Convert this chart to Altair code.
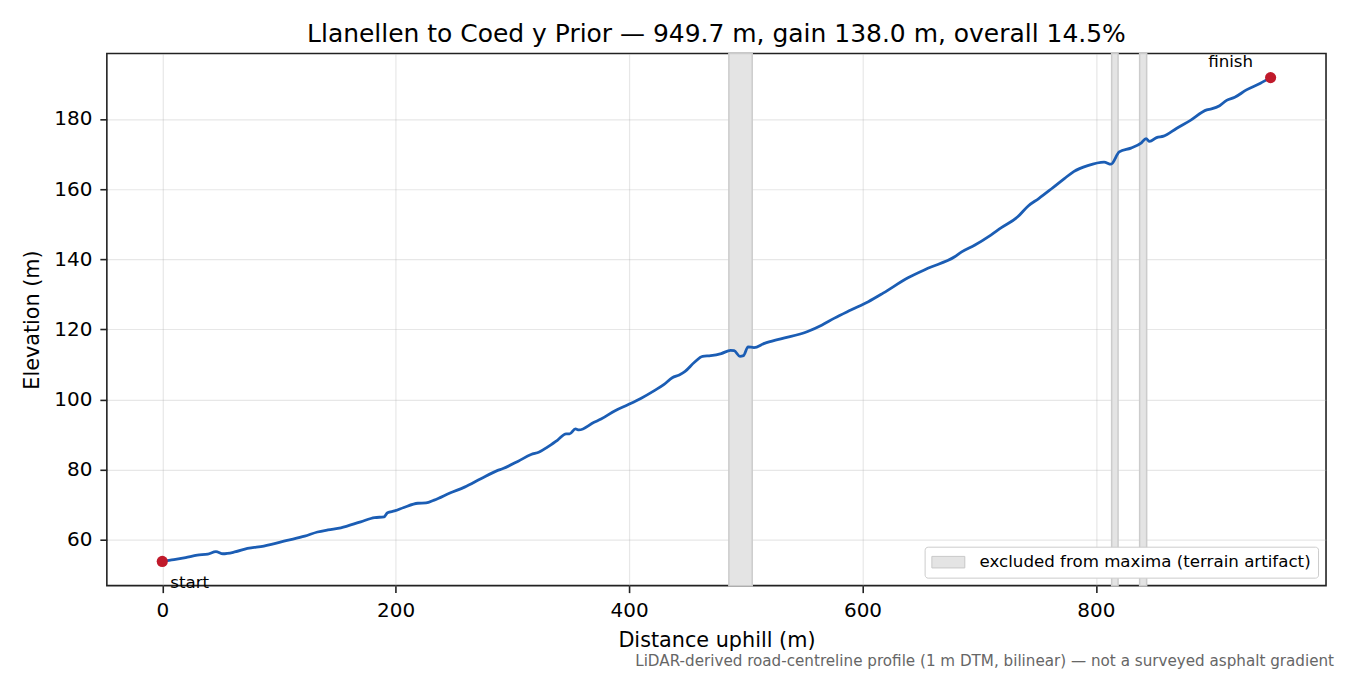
import altair as alt
import pandas as pd

# Road profile: distance uphill (m) and elevation (m)
dist_m = [0, 10, 20, 30, 39, 46, 52, 62, 73, 87, 107, 122, 133, 142, 153, 170,
          182, 190, 193, 199, 207, 219, 226, 233, 247, 259, 273, 287, 292, 305,
          316, 323, 330, 339, 346, 349, 354, 357, 370, 376, 388, 399, 410, 422,
          430, 437, 443, 448, 456, 463, 470, 479, 487, 490, 495, 498, 502, 507,
          516, 530, 553, 565, 576, 590, 605, 618, 639, 656, 679, 685, 696, 710,
          719, 733, 742, 751, 762, 773, 781, 793, 807, 813, 820, 830, 839, 843,
          846, 852, 858, 869, 881, 895, 899, 906, 912, 919, 929, 941, 949.7]
elev_m = [53.8, 54.3, 54.9, 55.6, 55.9, 56.6, 56.0, 56.5, 57.5, 58.2, 59.8, 61.0,
          62.2, 62.8, 63.4, 65.1, 66.3, 66.5, 67.7, 68.2, 69.2, 70.4, 70.5, 71.3,
          73.4, 75.0, 77.4, 79.7, 80.3, 82.4, 84.3, 85.0, 86.4, 88.5, 90.2, 90.2,
          91.6, 91.3, 93.5, 94.4, 96.8, 98.5, 100.3, 102.6, 104.3, 106.2, 107.0,
          108.0, 110.6, 112.3, 112.5, 113.1, 114.0, 113.9, 112.3, 112.5, 115.0,
          114.8, 116.0, 117.3, 119.4, 121.2, 123.2, 125.5, 127.9, 130.4, 134.7,
          137.4, 140.7, 142.1, 144.0, 146.9, 149.0, 152.1, 155.2, 157.3, 160.1,
          163.0, 165.0, 166.7, 167.7, 167.1, 170.6, 171.7, 173.2, 174.4, 173.6,
          174.7, 175.1, 177.3, 179.6, 182.6, 182.9, 183.8, 185.3, 186.2, 188.3,
          190.2, 191.8]

# stretches excluded from maxima
band_start = [485.5, 813.5, 837.5]
band_end = [505.5, 819.0, 843.5]
band_label = "excluded from maxima (terrain artifact)"

x_ticks = [0, 200, 400, 600, 800]
y_ticks = [60, 80, 100, 120, 140, 160, 180]

title = "Llanellen to Coed y Prior \u2014 949.7 m, gain 138.0 m, overall 14.5%"
footer = ("LiDAR-derived road-centreline profile (1 m DTM, bilinear) \u2014 "
          "not a surveyed asphalt gradient")

FONT = "DejaVu Sans"
W, H = 1221, 533

profile = pd.DataFrame({"dist": dist_m, "elev": elev_m})
bands = pd.DataFrame({"x0": band_start, "x1": band_end,
                      "kind": [band_label] * len(band_start)})
start_pt = pd.DataFrame({"dist": [dist_m[0]], "elev": [elev_m[0]], "label": ["start"]})
finish_pt = pd.DataFrame({"dist": [dist_m[-1]], "elev": [elev_m[-1]], "label": ["finish"]})
ends = pd.concat([start_pt, finish_pt])

x_scale = alt.Scale(domain=[-47.5, 997.2], nice=False, zero=False)
y_scale = alt.Scale(domain=[46.9, 198.7], nice=False, zero=False)

x_axis = alt.Axis(values=x_ticks, title="Distance uphill (m)", labelFlush=False,
                  labelPadding=8, titlePadding=10)
y_axis = alt.Axis(values=y_ticks, title="Elevation (m)", labelPadding=8,
                  titlePadding=11)


def xq(field):
    return alt.X(field, type="quantitative", scale=x_scale, axis=x_axis)


def yq(field):
    return alt.Y(field, type="quantitative", scale=y_scale, axis=y_axis)


band_layer = alt.Chart(bands).mark_rect(
    stroke="#cccccc", strokeWidth=1.5
).encode(
    x=xq("x0"),
    x2="x1",
    color=alt.Color("kind:N", scale=alt.Scale(domain=[band_label], range=["#e4e4e4"]),
                    legend=alt.Legend(title=None)),
)

line_layer = alt.Chart(profile).mark_line(
    color="#1b5db4", strokeWidth=2.8, interpolate="monotone"
).encode(x=xq("dist"), y=yq("elev"))

dots = alt.Chart(ends).mark_circle(color="#c01a2b", opacity=1, size=125).encode(
    x=xq("dist"), y=yq("elev")
)

start_txt = alt.Chart(start_pt).mark_text(
    align="left", baseline="alphabetic", dx=8, dy=27, fontSize=16.7, color="black"
).encode(x=xq("dist"), y=yq("elev"), text="label:N")

finish_txt = alt.Chart(finish_pt).mark_text(
    align="center", baseline="alphabetic", dx=-40, dy=-11, fontSize=16.7, color="black"
).encode(x=xq("dist"), y=yq("elev"), text="label:N")

note = alt.Chart(pd.DataFrame({"note": [footer]})).mark_text(
    align="right", baseline="alphabetic", fontSize=15.2, color="#666666"
).encode(x=alt.value(W + 8), y=alt.value(H + 80), text="note:N")

chart = (
    alt.layer(band_layer, line_layer, dots, start_txt, finish_txt, note)
    .properties(
        width=W,
        height=H,
        title=alt.TitleParams(title, anchor="middle", frame="group", fontSize=25,
                              font=FONT, fontWeight="normal", color="black",
                              baseline="alphabetic", offset=-14),
        autosize=alt.AutoSizeParams(type="none"),
        padding={"left": 99, "top": 45, "right": 16, "bottom": 86},
    )
    .configure(font=FONT)
    .configure_view(stroke="#222222", strokeWidth=1.6)
    .configure_axis(
        domain=False,
        grid=True,
        gridColor="#b0b0b0",
        gridOpacity=0.3,
        gridWidth=1.2,
        tickColor="#222222",
        tickSize=7,
        tickWidth=1.6,
        labelFont=FONT,
        labelFontSize=20,
        labelColor="black",
        titleFont=FONT,
        titleFontSize=20.8,
        titleFontWeight="normal",
        titleColor="black",
    )
    .configure_legend(
        orient="bottom-right",
        offset=8,
        fillColor="white",
        strokeColor="#cccccc",
        cornerRadius=3,
        padding=6.5,
        labelFont=FONT,
        labelFontSize=16.7,
        labelColor="black",
        labelOffset=30.5,
        labelLimit=600,
        # wide patch, drawn from the entry's left edge
        symbolType="M-1,-0.7H3V0.7H-1Z",
        symbolSize=272,
        symbolStrokeColor="#c8c8c8",
        symbolStrokeWidth=1,
    )
)

chart.save("out.html", embed_options={"renderer": "svg", "actions": False})
